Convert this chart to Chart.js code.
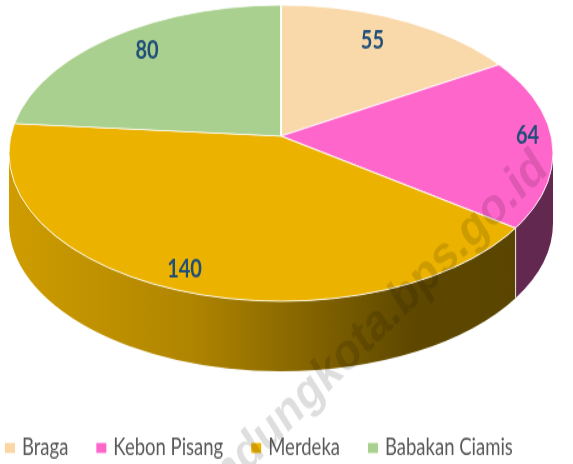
<!DOCTYPE html>
<html>
<head>
<meta charset="utf-8">
<script src="https://cdn.jsdelivr.net/npm/chart.js@4.4.1/dist/chart.umd.min.js"></script>
<style>
  html, body { margin: 0; padding: 0; background: #ffffff; }
  #outer { width: 573px; height: 464px; position: relative; overflow: hidden; }
  #wrap { position: absolute; left: 0; top: 0; width: 573px; height: 371px; transform: scaleY(1.25); transform-origin: 0 0; }
  #c { width: 573px; height: 371px; display: block; }
</style>
</head>
<body>
<div id="outer"><div id="wrap"><canvas id="c" width="573" height="371"></canvas></div></div>
<script>
// ---- data ----
const categories = ['Braga', 'Kebon Pisang', 'Merdeka', 'Babakan Ciamis'];
const values = [55, 64, 140, 80];

// ---- styles ----
const topColors = ['#F9D8A9', '#FF66CC', '#EBB200', '#A9D08E'];
const sideColors = ['#B89B74', '#62284F', null, '#7E9D68'];
const legendColors = ['#FCD5A5', '#FF66CC', '#F0B400', '#A9D08E'];
const watermark = 'bandungkota.bps.go.id';

// ---- 3D look (perspective approximation) ----
const OUT = { cy: 122.5, rx: 272, ry: 118.5 }; // outline ellipse of the top face
const VY = 108.8;   // projected centre (apex of slices)
const KP = 0.4265;  // squash of slice directions
const DEPTH = 56;   // wall thickness

function rimPoint(cx, a) {
  const dx = Math.cos(a), dy = KP * Math.sin(a), e = VY - OUT.cy;
  const A = dx * dx / (OUT.rx * OUT.rx) + dy * dy / (OUT.ry * OUT.ry);
  const B = 2 * dy * e / (OUT.ry * OUT.ry);
  const C = e * e / (OUT.ry * OUT.ry) - 1;
  const t = (-B + Math.sqrt(B * B - 4 * A * C)) / (2 * A);
  const x = cx + dx * t, y = VY + dy * t;
  let phi = Math.atan2((y - OUT.cy) / OUT.ry, (x - cx) / OUT.rx);
  while (phi - a > Math.PI) phi -= 2 * Math.PI;
  while (a - phi > Math.PI) phi += 2 * Math.PI;
  return { x, y, phi };
}

const threeD = {
  id: 'threeD',
  beforeDatasetsDraw(chart) {
    const ctx = chart.ctx;
    const arcs = chart.getDatasetMeta(0).data;
    if (!arcs.length) return;
    const cx = arcs[0].x;
    arcs.forEach((arc, i) => {
      const p1 = rimPoint(cx, arc.startAngle), p2 = rimPoint(cx, arc.endAngle);
      const a1 = Math.max(p1.phi, 0), a2 = Math.min(p2.phi, Math.PI);
      if (a2 <= a1) return;
      ctx.save();
      ctx.beginPath();
      ctx.ellipse(cx, OUT.cy, OUT.rx, OUT.ry, 0, a1, a2);
      ctx.ellipse(cx, OUT.cy + DEPTH, OUT.rx, OUT.ry, 0, a2, a1, true);
      ctx.closePath();
      if (sideColors[i]) {
        ctx.fillStyle = sideColors[i];
      } else {
        const g = ctx.createLinearGradient(cx - OUT.rx, 0, cx + OUT.rx * 0.9, 0);
        g.addColorStop(0, '#CF9D00');
        g.addColorStop(0.35, '#B08500');
        g.addColorStop(0.78, '#5E4800');
        g.addColorStop(1, '#5A4500');
        ctx.fillStyle = g;
      }
      ctx.fill();
      ctx.strokeStyle = 'rgba(255,255,255,0.75)';
      ctx.lineWidth = 1;
      [a1, a2].forEach(a => {
        if (a > 0.001 && a < Math.PI - 0.001) {
          const x = cx + OUT.rx * Math.cos(a), y = OUT.cy + OUT.ry * Math.sin(a);
          ctx.beginPath(); ctx.moveTo(x, y); ctx.lineTo(x, y + DEPTH); ctx.stroke();
        }
      });
      ctx.restore();
    });
    ctx.save();
    ctx.beginPath();
    ctx.ellipse(cx, OUT.cy, OUT.rx, OUT.ry, 0, 0, Math.PI * 2);
    ctx.clip();
    ctx.translate(0, VY);
    ctx.scale(1, KP);
    ctx.translate(0, -arcs[0].y);
  },
  afterDatasetsDraw(chart) {
    const ctx = chart.ctx;
    ctx.restore();
    const arcs = chart.getDatasetMeta(0).data;
    const cx = arcs[0].x;
    ctx.save();
    ctx.strokeStyle = 'rgba(255,255,255,0.85)';
    ctx.lineWidth = 1;
    ctx.beginPath();
    ctx.ellipse(cx, OUT.cy, OUT.rx, OUT.ry, 0, 0, Math.PI * 2);
    ctx.stroke();
    ctx.restore();
    ctx.save();
    ctx.font = 'bold 20px Lato, "Open Sans", sans-serif';
    ctx.fillStyle = '#1F4E79';
    ctx.textAlign = 'center';
    ctx.textBaseline = 'middle';
    arcs.forEach((arc, i) => {
      const m = (arc.startAngle + arc.endAngle) / 2;
      const f = 0.9;
      const u = f * Math.cos(m), v = f * Math.sin(m);
      const s = 1 + 0.22 * v - 0.1 * v * v;
      const x = cx + OUT.rx * u * s;
      const y = 104 + OUT.ry * v * s;
      ctx.fillText(String(chart.data.datasets[0].data[i]), x, y);
    });
    ctx.restore();
  },
  afterDraw(chart) {
    const ctx = chart.ctx;
    ctx.save();
    ctx.font = '18.5px Lato, "Open Sans", sans-serif';
    ctx.textBaseline = 'alphabetic';
    let x = 5;
    chart.data.labels.forEach((l, i) => {
      ctx.fillStyle = legendColors[i];
      ctx.fillRect(x, 354.4, 10, 8);
      ctx.fillStyle = '#595959';
      ctx.fillText(l, x + 17, 364);
      x += 17 + ctx.measureText(l).width + 28;
    });
    ctx.restore();
    ctx.save();
    ctx.translate(549, 138);
    ctx.rotate(-38.5 * Math.PI / 180);
    ctx.font = 'bold 42px "Liberation Sans", Arial, sans-serif';
    ctx.fillStyle = 'rgba(0,0,0,0.13)';
    ctx.textAlign = 'right';
    ctx.textBaseline = 'alphabetic';
    ctx.fillText(watermark, 0, 0);
    ctx.restore();
  }
};

new Chart(document.getElementById('c'), {
  type: 'pie',
  data: {
    labels: categories,
    datasets: [{
      data: values,
      backgroundColor: topColors,
      borderColor: 'rgba(255,255,255,0.9)',
      borderWidth: 2,
      clip: false
    }]
  },
  options: {
    responsive: false,
    animation: false,
    devicePixelRatio: 1,
    radius: 340,
    events: [],
    layout: { padding: { left: 0, right: 11, top: 0, bottom: 0 } },
    plugins: {
      legend: { display: false },
      tooltip: { enabled: false }
    }
  },
  plugins: [threeD]
});
</script>
</body>
</html>
